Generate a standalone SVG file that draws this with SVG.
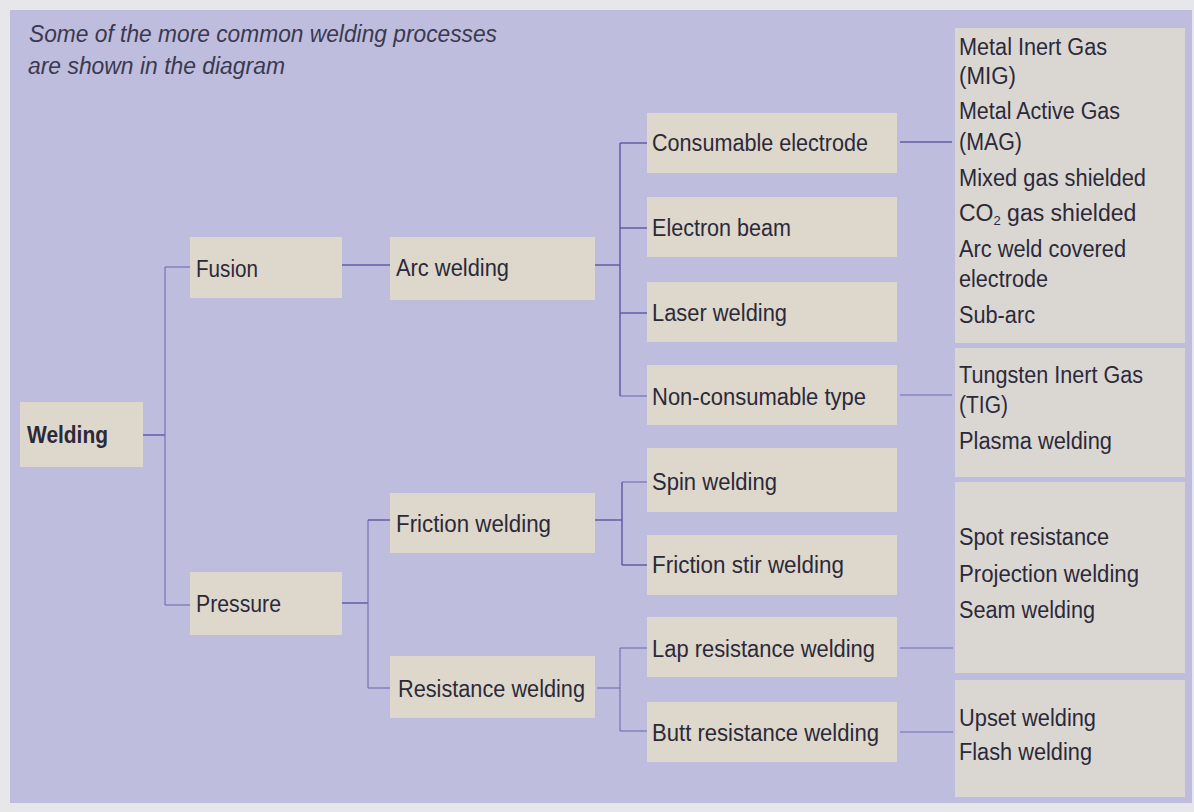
<svg xmlns="http://www.w3.org/2000/svg" width="1194" height="812" viewBox="0 0 1194 812">
  <style>
    .bg { fill: #e7e7eb; }
    .panel { fill: #bebddd; }
    .box { fill: #ddd8cb; }
    .list { fill: #dad7d2; }
    .t { font-family: "Liberation Sans", Arial, sans-serif; font-size: 23px; fill: #2c2939; }
    .b { font-weight: bold; }
    .title { font-family: "Liberation Sans", Arial, sans-serif; font-size: 23px; font-style: italic; fill: #3a3950; }
    .sub { font-size: 13px; }
    #connectors line { stroke: #5f5ea4; stroke-width: 1.5; fill: none; }
    #connectors line.thin { stroke: #6e6db0; stroke-width: 1.1; }
  </style>

  <!-- page and panel -->
  <rect class="bg" x="0" y="0" width="1194" height="812"/>
  <rect class="panel" x="10" y="10" width="1182" height="793"/>

  <!-- heading -->
  <g id="heading">
    <text class="title" x="29" y="42" textLength="468" lengthAdjust="spacingAndGlyphs">Some of the more common welding processes</text>
    <text class="title" x="28" y="74" textLength="257" lengthAdjust="spacingAndGlyphs">are shown in the diagram</text>
  </g>

  <!-- connectors -->
  <g id="connectors">
    <!-- Welding to Fusion / Pressure -->
    <line x1="143" y1="435" x2="165" y2="435"/>
    <line class="thin" x1="165" y1="267" x2="165" y2="605"/>
    <line class="thin" x1="165" y1="267" x2="190" y2="267"/>
    <line class="thin" x1="165" y1="605" x2="190" y2="605"/>
    <!-- Fusion to Arc welding -->
    <line x1="342" y1="265" x2="390" y2="265"/>
    <!-- Pressure to Friction / Resistance -->
    <line x1="342" y1="603" x2="368" y2="603"/>
    <line class="thin" x1="368" y1="520" x2="368" y2="688"/>
    <line x1="368" y1="520" x2="390" y2="520"/>
    <line class="thin" x1="368" y1="688" x2="390" y2="688"/>
    <!-- Arc welding branches -->
    <line x1="595" y1="265" x2="620" y2="265"/>
    <line x1="620" y1="143" x2="620" y2="396"/>
    <line x1="620" y1="143" x2="647" y2="143"/>
    <line x1="620" y1="228" x2="647" y2="228"/>
    <line x1="620" y1="313" x2="647" y2="313"/>
    <line class="thin" x1="620" y1="396" x2="647" y2="396"/>
    <!-- Friction welding branches -->
    <line x1="595" y1="520" x2="622" y2="520"/>
    <line x1="622" y1="482" x2="622" y2="565"/>
    <line class="thin" x1="622" y1="482" x2="647" y2="482"/>
    <line x1="622" y1="565" x2="647" y2="565"/>
    <!-- Resistance welding branches -->
    <line class="thin" x1="597" y1="688" x2="620" y2="688"/>
    <line class="thin" x1="620" y1="648" x2="620" y2="731"/>
    <line class="thin" x1="620" y1="648" x2="647" y2="648"/>
    <line class="thin" x1="620" y1="731" x2="647" y2="731"/>
    <!-- to process lists -->
    <line x1="900" y1="142" x2="952" y2="142"/>
    <line class="thin" x1="900" y1="395" x2="952" y2="395"/>
    <line class="thin" x1="900" y1="648" x2="953" y2="648"/>
    <line class="thin" x1="900" y1="732" x2="953" y2="732"/>
  </g>

  <!-- level 0 -->
  <g id="welding">
    <rect class="box" x="20" y="402" width="123" height="65"/>
    <text class="t b" x="27" y="443" textLength="81" lengthAdjust="spacingAndGlyphs">Welding</text>
  </g>

  <!-- level 1 -->
  <g id="fusion">
    <rect class="box" x="190" y="237" width="152" height="61"/>
    <text class="t" x="196" y="277" textLength="62" lengthAdjust="spacingAndGlyphs">Fusion</text>
  </g>
  <g id="pressure">
    <rect class="box" x="190" y="572" width="152" height="63"/>
    <text class="t" x="196" y="612" textLength="85" lengthAdjust="spacingAndGlyphs">Pressure</text>
  </g>

  <!-- level 2 -->
  <g id="arc-welding">
    <rect class="box" x="390" y="237" width="205" height="63"/>
    <text class="t" x="396" y="276" textLength="113" lengthAdjust="spacingAndGlyphs">Arc welding</text>
  </g>
  <g id="friction-welding">
    <rect class="box" x="390" y="493" width="205" height="60"/>
    <text class="t" x="396" y="532" textLength="155" lengthAdjust="spacingAndGlyphs">Friction welding</text>
  </g>
  <g id="resistance-welding">
    <rect class="box" x="390" y="656" width="205" height="62"/>
    <text class="t" x="398" y="697" textLength="187" lengthAdjust="spacingAndGlyphs">Resistance welding</text>
  </g>

  <!-- level 3 -->
  <g id="consumable-electrode">
    <rect class="box" x="647" y="113" width="250" height="60"/>
    <text class="t" x="652" y="151" textLength="216" lengthAdjust="spacingAndGlyphs">Consumable electrode</text>
  </g>
  <g id="electron-beam">
    <rect class="box" x="647" y="197" width="250" height="60"/>
    <text class="t" x="652" y="236" textLength="139" lengthAdjust="spacingAndGlyphs">Electron beam</text>
  </g>
  <g id="laser-welding">
    <rect class="box" x="647" y="282" width="250" height="60"/>
    <text class="t" x="652" y="321" textLength="135" lengthAdjust="spacingAndGlyphs">Laser welding</text>
  </g>
  <g id="non-consumable-type">
    <rect class="box" x="647" y="365" width="250" height="60"/>
    <text class="t" x="652" y="405" textLength="214" lengthAdjust="spacingAndGlyphs">Non-consumable type</text>
  </g>
  <g id="spin-welding">
    <rect class="box" x="647" y="448" width="250" height="64"/>
    <text class="t" x="652" y="490" textLength="125" lengthAdjust="spacingAndGlyphs">Spin welding</text>
  </g>
  <g id="friction-stir-welding">
    <rect class="box" x="647" y="535" width="250" height="60"/>
    <text class="t" x="652" y="573" textLength="192" lengthAdjust="spacingAndGlyphs">Friction stir welding</text>
  </g>
  <g id="lap-resistance-welding">
    <rect class="box" x="647" y="617" width="250" height="60"/>
    <text class="t" x="652" y="657" textLength="223" lengthAdjust="spacingAndGlyphs">Lap resistance welding</text>
  </g>
  <g id="butt-resistance-welding">
    <rect class="box" x="647" y="702" width="250" height="60"/>
    <text class="t" x="652" y="741" textLength="227" lengthAdjust="spacingAndGlyphs">Butt resistance welding</text>
  </g>

  <!-- process lists -->
  <g id="consumable-processes">
    <rect class="list" x="955" y="28" width="230" height="315"/>
    <text class="t" x="959" y="55" textLength="148" lengthAdjust="spacingAndGlyphs">Metal Inert Gas</text>
    <text class="t" x="959" y="84" textLength="57" lengthAdjust="spacingAndGlyphs">(MIG)</text>
    <text class="t" x="959" y="119" textLength="161" lengthAdjust="spacingAndGlyphs">Metal Active Gas</text>
    <text class="t" x="959" y="150" textLength="63" lengthAdjust="spacingAndGlyphs">(MAG)</text>
    <text class="t" x="959" y="186" textLength="187" lengthAdjust="spacingAndGlyphs">Mixed gas shielded</text>
    <text class="t" x="959" y="221">CO<tspan class="sub" dy="4">2</tspan><tspan dy="-4"> gas shielded</tspan></text>
    <text class="t" x="959" y="257" textLength="167" lengthAdjust="spacingAndGlyphs">Arc weld covered</text>
    <text class="t" x="959" y="287" textLength="89" lengthAdjust="spacingAndGlyphs">electrode</text>
    <text class="t" x="959" y="323" textLength="76" lengthAdjust="spacingAndGlyphs">Sub-arc</text>
  </g>
  <g id="non-consumable-processes">
    <rect class="list" x="955" y="348" width="230" height="129"/>
    <text class="t" x="959" y="383" textLength="184" lengthAdjust="spacingAndGlyphs">Tungsten Inert Gas</text>
    <text class="t" x="959" y="413" textLength="49" lengthAdjust="spacingAndGlyphs">(TIG)</text>
    <text class="t" x="959" y="449" textLength="153" lengthAdjust="spacingAndGlyphs">Plasma welding</text>
  </g>
  <g id="lap-processes">
    <rect class="list" x="955" y="482" width="230" height="191"/>
    <text class="t" x="959" y="545" textLength="150" lengthAdjust="spacingAndGlyphs">Spot resistance</text>
    <text class="t" x="959" y="582" textLength="180" lengthAdjust="spacingAndGlyphs">Projection welding</text>
    <text class="t" x="959" y="618" textLength="136" lengthAdjust="spacingAndGlyphs">Seam welding</text>
  </g>
  <g id="butt-processes">
    <rect class="list" x="955" y="680" width="230" height="117"/>
    <text class="t" x="959" y="726" textLength="137" lengthAdjust="spacingAndGlyphs">Upset welding</text>
    <text class="t" x="959" y="760" textLength="133" lengthAdjust="spacingAndGlyphs">Flash welding</text>
  </g>
</svg>
